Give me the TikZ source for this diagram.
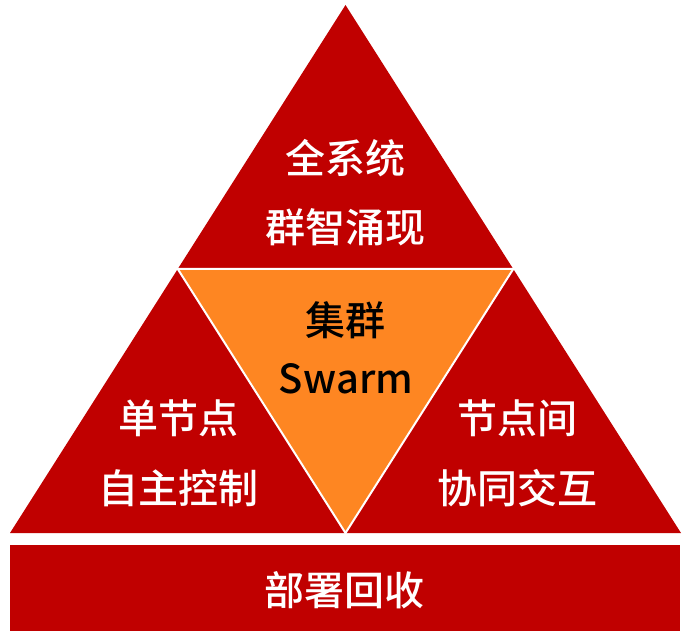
\documentclass[tikz,border=0pt]{standalone}
\usepackage{fontspec}
\newfontfamily\cjk{Noto Sans CJK SC}[UprightFont = * Medium]
\definecolor{pyrred}{RGB}{192,0,0}
\definecolor{pyrorange}{RGB}{254,134,34}
\tikzset{
	lbl/.style = {inner sep = 0pt, font = \cjk\fontsize{40}{48}\selectfont},
	white lbl/.style = {lbl, text = white},
	black lbl/.style = {lbl, text = black}
}
\begin{document}
\begin{tikzpicture}[x = 1pt, y = -1pt]
	\useasboundingbox (0, 0) rectangle (699, 631);
	% pyramid and base
	\fill[pyrred] (345.5, 5) -- (10, 533) -- (681, 533) -- cycle;
	\filldraw[fill = pyrorange, draw = white, line width = 2pt] (177.75, 269) -- (513.25, 269) -- (345.5, 533) -- cycle;
	\fill[pyrred] (10, 545) rectangle (680, 631);
	% labels
	\foreach \i/\j/\name/\txt in {345/158/top1/全系统, 345/227/top2/群智涌现, 178/418/left1/单节点, 178/488/left2/自主控制,
		517/418/right1/节点间, 517/488/right2/协同交互, 344/590/base/部署回收}{
		\node[white lbl] (\name) at (\i, \j) {\txt};}
	\node[black lbl] (mid1) at (345, 320) {集群};
	\node[black lbl] (mid2) at (346, 379) {Swarm};
\end{tikzpicture}
\end{document}
